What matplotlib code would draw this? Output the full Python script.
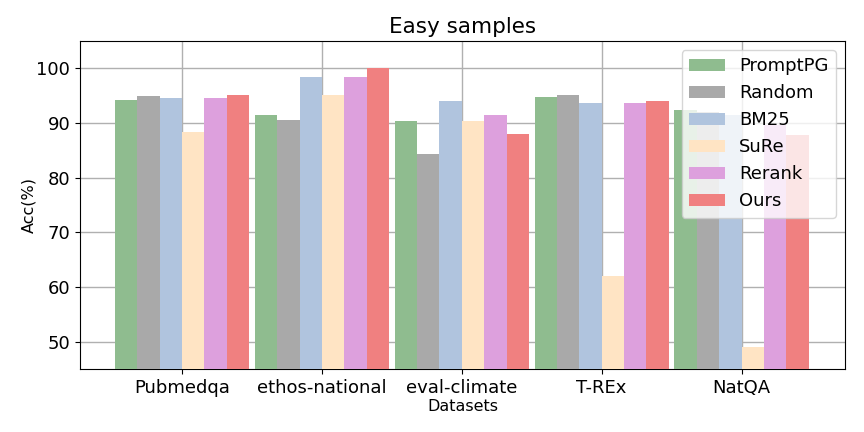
import matplotlib
matplotlib.use("Agg")
import matplotlib.pyplot as plt
import numpy as np

datasets = ["Pubmedqa", "ethos-national", "eval-climate", "T-REx", "NatQA"]
methods = ["PromptPG", "Random", "BM25", "SuRe", "Rerank", "Ours"]
colors = ["darkseagreen", "darkgray", "lightsteelblue", "bisque", "plum", "lightcoral"]

promptpg = [94.3, 91.5, 90.4, 94.7, 92.4]
random_ = [94.9, 90.6, 84.3, 95.1, 92.0]
bm25 = [94.5, 98.4, 94.0, 93.6, 91.5]
sure = [88.4, 95.2, 90.4, 62.0, 49.1]
rerank = [94.5, 98.4, 91.5, 93.6, 89.7]
ours = [95.1, 100.0, 88.0, 94.1, 87.8]

series = [promptpg, random_, bm25, sure, rerank, ours]

fig = plt.figure(figsize=(8.64, 4.32), dpi=100)
ax = fig.add_axes([0.0926, 0.146, 0.978 - 0.0926, 0.905 - 0.146])

x = np.arange(len(datasets))
width = 0.16
for j, (vals, name, c) in enumerate(zip(series, methods, colors)):
    ax.bar(x + (j - 2.5) * width, vals, width, label=name, color=c, zorder=3)

ax.set_ylim(45, 105)
ax.set_xlim(-0.73, 4.74)
ax.set_yticks([50, 60, 70, 80, 90, 100])
ax.set_xticks(x)
ax.set_xticklabels(datasets, fontsize=13)
ax.tick_params(axis="y", labelsize=13)
ax.grid(True, color="#b0b0b0", linewidth=1.0, zorder=0)
ax.set_axisbelow(True)
ax.set_xlabel("Datasets", fontsize=11.5, labelpad=2)
ax.set_ylabel("Acc(%)", fontsize=11.5, labelpad=0)
ax.set_title("Easy samples", fontsize=15.5)
leg = ax.legend(loc="upper right", fontsize=13)
leg.set_zorder(5)

fig.savefig("out.png", dpi=100)
